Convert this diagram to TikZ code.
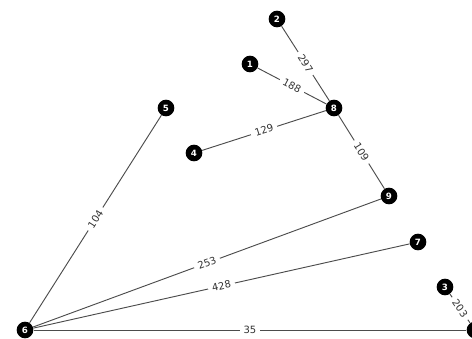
\documentclass[tikz,border=0pt]{standalone}
\usepackage{fontspec}
\setmainfont{DejaVu Sans}
\usetikzlibrary{positioning}

\begin{document}
\begin{tikzpicture}[
    x=0.75pt, y=-0.75pt,
    vertex/.style={circle, fill=black, text=white, minimum size=12.5pt, inner sep=0pt, font=\fontsize{6.5}{6.5}\selectfont\bfseries},
    link/.style={draw=black!70, line width=0.7pt},
    weight/.style={fill=white, inner xsep=3pt, inner ysep=0.5pt, sloped, text=black!80, font=\fontsize{7.5}{8}\selectfont}
]
\useasboundingbox (0,0) rectangle (472,339);

\node[vertex] (n2) at (277,19) {2};
\node[vertex] (n1) at (250,64) {1};
\node[vertex] (n8) at (334,108) {8};
\node[vertex] (n5) at (166,108) {5};
\node[vertex] (n4) at (194,153) {4};
\node[vertex] (n9) at (389,196) {9};
\node[vertex] (n7) at (418,242) {7};
\node[vertex] (n3) at (445,287) {3};
\node[vertex] (n6) at (25,330) {6};
\node[vertex] (n0) at (475,330) {};

\draw[link] (n2) -- node[weight] {297} (n8);
\draw[link] (n1) -- node[weight] {188} (n8);
\draw[link] (n4) -- node[weight] {129} (n8);
\draw[link] (n8) -- node[weight] {109} (n9);
\draw[link] (n6) -- node[weight] {104} (n5);
\draw[link] (n6) -- node[weight] {253} (n9);
\draw[link] (n6) -- node[weight] {428} (n7);
\draw[link] (n6) -- node[weight] {35} (n0);
\draw[link] (n3) -- node[weight] {203} (n0);
\end{tikzpicture}
\end{document}
